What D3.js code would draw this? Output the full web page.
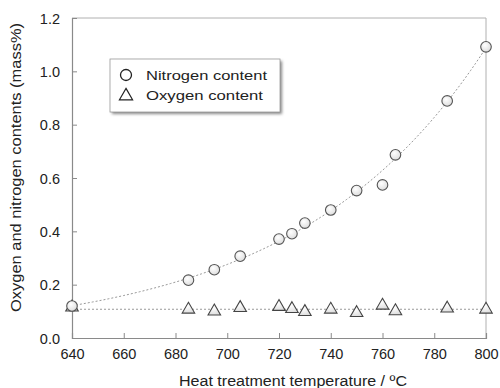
<!DOCTYPE html>
<html><head><meta charset="utf-8">
<script src="https://cdn.jsdelivr.net/npm/d3@7"></script>
<style>body{margin:0;background:#fff}svg{display:block}text{font-family:"Liberation Sans",Arial,sans-serif;fill:#222}</style>
</head><body>
<svg id="c" width="500" height="388"></svg>
<script>
const temps = [640, 685, 695, 705, 720, 725, 730, 740, 750, 760, 765, 785, 800];
const nitrogen = [0.12, 0.217, 0.256, 0.307, 0.371, 0.391, 0.431, 0.48, 0.553, 0.574, 0.687, 0.889, 1.092];
const oxygen = [0.115, 0.107, 0.100, 0.113, 0.117, 0.109, 0.098, 0.107, 0.094, 0.122, 0.101, 0.111, 0.107];
const xTicks = [640, 660, 680, 700, 720, 740, 760, 780, 800];
const yTicks = [0, 0.2, 0.4, 0.6, 0.8, 1.0, 1.2];
const seriesNames = ["Nitrogen content", "Oxygen content"];
const xTitle = "Heat treatment temperature / ºC";
const yTitle = "Oxygen and nitrogen contents (mass%)";

const svg = d3.select("#c");
const L = 72, R = 486, T = 18, B = 338;
const x = d3.scaleLinear().domain([640, 800]).range([L, R]);
const y = d3.scaleLinear().domain([0, 1.2]).range([B, T]);

// frame (top/right light)
svg.append("path").attr("d", `M${L},${T}H${R}V${B}`).attr("fill","none").attr("stroke","#b0b0b0").attr("stroke-width",1);

// axes
const xAx = svg.append("g").attr("transform", `translate(0,${B})`)
  .call(d3.axisBottom(x).tickValues(xTicks).tickSize(-5).tickPadding(11).tickFormat(d3.format("d")));
const yAx = svg.append("g").attr("transform", `translate(${L},0)`)
  .call(d3.axisLeft(y).tickValues(yTicks).tickSize(-5).tickPadding(12).tickFormat(d3.format(".1f")));
[xAx, yAx].forEach(g => {
  g.select(".domain").attr("stroke", "#8a8a8a").attr("stroke-width", 1.2);
  g.selectAll(".tick line").attr("stroke", "#8a8a8a");
  g.selectAll(".tick text").attr("font-size", 14.5).attr("fill", "#222")
    .attr("font-family", '"Liberation Sans",Arial,sans-serif');
});
xAx.selectAll(".tick text").attr("dy", "0.71em");
yAx.selectAll(".tick text").attr("dy", "0.35em");

// trend lines (fitted from the data)
const lx = temps, ly = nitrogen.map(Math.log);
const mx = d3.mean(lx), my = d3.mean(ly);
const bFit = d3.sum(lx.map((v,i)=>(v-mx)*(ly[i]-my))) / d3.sum(lx.map(v=>(v-mx)*(v-mx)));
const aFit = my - bFit*mx;
const curveX = d3.range(640, 800.01, 2);
const line = d3.line().x(d=>x(d[0])).y(d=>y(d[1]));
svg.append("path").datum(curveX.map(t=>[t, Math.exp(aFit + bFit*t)]))
  .attr("d", line).attr("fill","none").attr("stroke","#999").attr("stroke-width",1).attr("stroke-dasharray","2,2");
const oMean = d3.mean(oxygen);
svg.append("path").datum([[640, oMean],[800, oMean]])
  .attr("d", line).attr("fill","none").attr("stroke","#999").attr("stroke-width",1).attr("stroke-dasharray","2,2");

// markers
const defs = svg.append("defs");
const gr = defs.append("radialGradient").attr("id","mg").attr("cx","40%").attr("cy","35%").attr("r","70%");
gr.append("stop").attr("offset","0%").attr("stop-color","#ffffff");
gr.append("stop").attr("offset","100%").attr("stop-color","#dcdcdc");
const flt = defs.append("filter").attr("id","sh").attr("x","-10%").attr("y","-10%").attr("width","130%").attr("height","140%");
flt.append("feGaussianBlur").attr("stdDeviation",1.5);

const tri = d3.symbol().type(d3.symbolTriangle).size(68);
svg.append("g").selectAll("path").data(temps.map((t,i)=>[t, oxygen[i]])).join("path")
  .attr("d", tri).attr("transform", d=>`translate(${x(d[0])},${y(d[1])})`)
  .attr("fill","url(#mg)").attr("stroke","#444").attr("stroke-width",1.1);
svg.append("g").selectAll("circle").data(temps.map((t,i)=>[t, nitrogen[i]])).join("circle")
  .attr("cx", d=>x(d[0])).attr("cy", d=>y(d[1])).attr("r", 5.3)
  .attr("fill","url(#mg)").attr("stroke","#555").attr("stroke-width",1.1);

// legend
const lg = svg.append("g");
lg.append("rect").attr("x",112).attr("y",61).attr("width",170).attr("height",53).attr("fill","#888").attr("filter","url(#sh)");
lg.append("rect").attr("x",110).attr("y",59).attr("width",170).attr("height",53).attr("fill","#fff").attr("stroke","#9a9a9a").attr("stroke-width",0.8);
lg.append("circle").attr("cx",126).attr("cy",75).attr("r",5.5).attr("fill","#fff").attr("stroke","#222").attr("stroke-width",1.3);
lg.append("path").attr("d", d3.symbol().type(d3.symbolTriangle).size(75)).attr("transform","translate(126,96)").attr("fill","#fff").attr("stroke","#222").attr("stroke-width",1.2);
lg.append("text").attr("x",146).attr("y",79.5).attr("font-size",13.5).attr("textLength",121).attr("lengthAdjust","spacingAndGlyphs").text(seriesNames[0]);
lg.append("text").attr("x",146).attr("y",100).attr("font-size",13.5).attr("textLength",117).attr("lengthAdjust","spacingAndGlyphs").text(seriesNames[1]);

// axis titles
svg.append("text").attr("x",179).attr("y",386).attr("font-size",14).attr("textLength",228).attr("lengthAdjust","spacingAndGlyphs").text(xTitle);
svg.append("text").attr("transform","translate(21,312) rotate(-90)").attr("font-size",14).attr("textLength",289).attr("lengthAdjust","spacingAndGlyphs").text(yTitle);
</script>
</body></html>
